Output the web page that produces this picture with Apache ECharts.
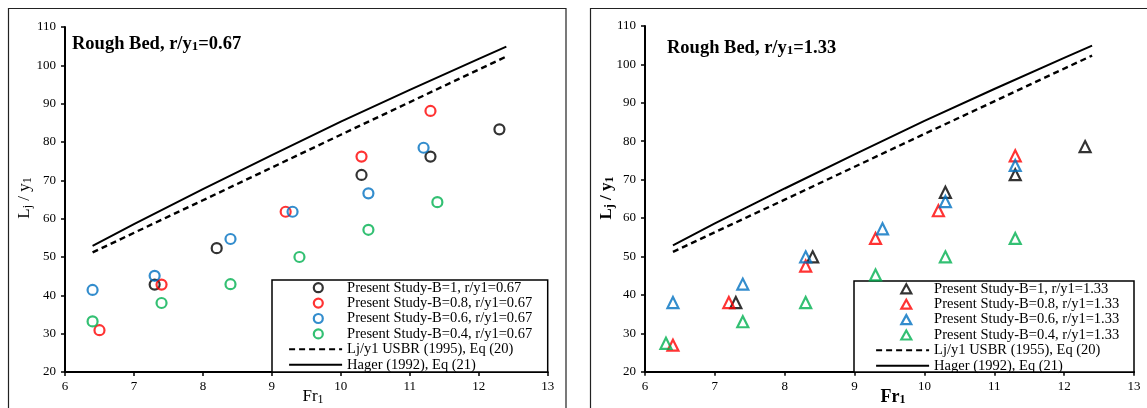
<!DOCTYPE html>
<html>
<head>
<meta charset="utf-8">
<script src="https://cdn.jsdelivr.net/npm/echarts@6/dist/echarts.min.js"></script>
<style>
  html, body { margin: 0; padding: 0; background: #fff; }
  #chart { width: 1147px; height: 408px; }
</style>
</head>
<body>
<div id="chart"></div>
<script>
// ---- Axis ranges ----
const frRange = [6, 13];
const ljRange = [20, 110];

// ---- Rough bed, r/y1 = 0.67 (circles) ----
const frB10_067 = [7.3, 8.2, 10.3, 11.3, 12.3];
const ljB10_067 = [42.8, 52.3, 71.4, 76.2, 83.3];
const frB08_067 = [6.5, 7.4, 9.2, 10.3, 11.3];
const ljB08_067 = [30.9, 42.8, 61.8, 76.2, 88.1];
const frB06_067 = [6.4, 7.3, 8.4, 9.3, 10.4, 11.2];
const ljB06_067 = [41.4, 45.1, 54.7, 61.8, 66.6, 78.5];
const frB04_067 = [6.4, 7.4, 8.4, 9.4, 10.4, 11.4];
const ljB04_067 = [33.2, 38.0, 42.9, 50.0, 57.1, 64.3];

// ---- Rough bed, r/y1 = 1.33 (triangles) ----
const frB10_133 = [7.3, 8.4, 10.3, 11.3, 12.3];
const ljB10_133 = [38.0, 49.9, 66.7, 71.3, 78.6];
const frB08_133 = [6.4, 7.2, 8.3, 9.3, 10.2, 11.3];
const ljB08_133 = [26.9, 38.0, 47.5, 54.7, 61.9, 76.2];
const frB06_133 = [6.4, 7.4, 8.3, 9.4, 10.3, 11.3];
const ljB06_133 = [38.0, 42.8, 49.9, 57.2, 64.3, 73.7];
const frB04_133 = [6.3, 7.4, 8.3, 9.3, 10.3, 11.3];
const ljB04_133 = [27.4, 33.0, 38.0, 45.2, 49.9, 54.7];

// ---- Reference curves ----
const usbrFr = [6.4, 8, 10, 12.4];
const usbrLj = [51.2, 64.8, 81.9, 102.3];
const hagerFr = [6.4, 7, 8, 9, 10, 11, 12, 12.4];
const hagerLj = [52.9, 58.6, 67.7, 76.6, 85.3, 93.6, 101.7, 104.9];

// ---- Labels ----
const namesLeft = [
  'Present Study-B=1, r/y1=0.67',
  'Present Study-B=0.8, r/y1=0.67',
  'Present Study-B=0.6, r/y1=0.67',
  'Present Study-B=0.4, r/y1=0.67',
  'Lj/y1 USBR (1995), Eq (20)',
  'Hager (1992), Eq (21)'
];
const namesRight = [
  'Present Study-B=1, r/y1=1.33',
  'Present Study-B=0.8, r/y1=1.33',
  'Present Study-B=0.6, r/y1=1.33',
  'Present Study-B=0.4, r/y1=1.33',
  'Lj/y1 USBR (1955), Eq (20)',
  'Hager (1992), Eq (21)'
];
const colors = ['#000000', '#ff0000', '#0070c0', '#00b050'];

const FONT = "'Liberation Serif', 'Times New Roman', serif";

// Legend key boxes are 53 x 10; the leading moves pin the path's bounds to that
// box so the marker keeps its own proportions and sits where it should.
const LEGEND_CIRCLE = 'path://M0,0M53,10M33.7,5A4.5,4.5,0,1,1,24.7,5A4.5,4.5,0,1,1,33.7,5Z';
const LEGEND_TRIANGLE = 'path://M0,0M53,10M30.2,0.6L35.2,9.6L25.2,9.6Z';

function pairs(xs, ys) { return xs.map((x, i) => [x, ys[i]]); }

function scatter(name, xs, ys, color, symbol, idx) {
  return {
    type: 'scatter', name, xAxisIndex: idx, yAxisIndex: idx,
    symbol, symbolSize: symbol === 'circle' ? 10 : 11, symbolKeepAspect: true,
    itemStyle: { color: 'rgba(255,255,255,0)', borderColor: color, borderWidth: 2.2 },
    data: pairs(xs, ys), z: 5
  };
}
function curve(name, xs, ys, dashed, idx) {
  return {
    type: 'line', name, xAxisIndex: idx, yAxisIndex: idx,
    symbol: 'none', showSymbol: false, smooth: false,
    itemStyle: { color: '#000' },
    lineStyle: { color: '#000', width: dashed ? 2.4 : 2, type: dashed ? [6, 4] : 'solid' },
    data: pairs(xs, ys), z: 4
  };
}

function xAxis(idx) {
  return {
    type: 'value', gridIndex: idx, min: frRange[0], max: frRange[1], interval: 1,
    axisLine: { onZero: false, lineStyle: { color: '#000', width: 2 } },
    axisTick: { show: true, inside: false, length: 4, lineStyle: { color: '#000', width: 1.5 } },
    axisLabel: { color: '#000', fontFamily: FONT, fontSize: 13, margin: 8 },
    splitLine: { show: false }
  };
}
function yAxis(idx) {
  return {
    type: 'value', gridIndex: idx, min: ljRange[0], max: ljRange[1], interval: 10,
    axisLine: { show: true, onZero: false, lineStyle: { color: '#000', width: 2 } },
    axisTick: { show: true, inside: false, length: 4, lineStyle: { color: '#000', width: 1.5 } },
    axisLabel: { color: '#000', fontFamily: FONT, fontSize: 13, margin: 9 },
    splitLine: { show: false }
  };
}

function legendData(names, icon) {
  return names.map((n, i) => i < 4
    ? { name: n, icon, itemStyle: { color: '#fff', borderColor: colors[i], borderWidth: 2.2 } }
    : { name: n, itemStyle: { color: 'rgba(0,0,0,0)', borderWidth: 0 } });
}
function legend(names, icon, left, top) {
  return {
    orient: 'vertical', left, top, padding: 0, itemGap: 0,
    itemWidth: 53, itemHeight: 10, symbolKeepAspect: true,
    textStyle: { color: '#000', fontFamily: FONT, fontSize: 14.5, lineHeight: 15.4 },
    data: legendData(names, icon), selectedMode: false
  };
}

function richText(size, weight) {
  return {
    m: { fontFamily: FONT, fontSize: size, fontWeight: weight, fill: '#000', lineHeight: size },
    s: { fontFamily: FONT, fontSize: Math.round(size * 0.68), fontWeight: weight, fill: '#000',
         lineHeight: 6, verticalAlign: 'bottom' }
  };
}
function label(text, x, y, size, weight, rotate, align) {
  return {
    type: 'text', x, y, rotation: rotate ? Math.PI / 2 : 0, z: 10,
    style: {
      text, align: align || 'center', verticalAlign: 'middle',
      fontFamily: FONT, fontSize: size, fontWeight: weight, fill: '#000',
      rich: richText(size, weight)
    }
  };
}

const chart = echarts.init(document.getElementById('chart'), null, { renderer: 'canvas' });
chart.setOption({
  backgroundColor: '#fff',
  animation: false,
  grid: [
    { left: 65, right: 1147 - 547.7, top: 27, bottom: 408 - 372, containLabel: false },
    { left: 645, right: 1147 - 1134, top: 26, bottom: 408 - 371.7, containLabel: false }
  ],
  xAxis: [xAxis(0), xAxis(1)],
  yAxis: [yAxis(0), yAxis(1)],
  legend: [
    legend(namesLeft, LEGEND_CIRCLE, 288, 280),
    legend(namesRight, LEGEND_TRIANGLE, 875, 281)
  ],
  graphic: [
    // panel frames
    { type: 'rect', shape: { x: 8.5, y: 8.5, width: 557.5, height: 420 }, z: 0,
      style: { fill: 'none', stroke: '#222', lineWidth: 1.2 } },
    { type: 'rect', shape: { x: 590.5, y: 8.5, width: 570, height: 420 }, z: 0,
      style: { fill: 'none', stroke: '#222', lineWidth: 1.2 } },
    // legend boxes
    { type: 'rect', shape: { x: 272, y: 280, width: 275.7, height: 92 }, z: 1,
      style: { fill: '#fff', stroke: '#000', lineWidth: 1.5 } },
    { type: 'rect', shape: { x: 854, y: 281, width: 280, height: 91 }, z: 1,
      style: { fill: '#fff', stroke: '#000', lineWidth: 1.5 } },
    // panel titles
    label('{m|Rough Bed, r/y}{s|1}{m|=0.67}', 72, 44, 18.5, 'bold', false, 'left'),
    label('{m|Rough Bed, r/y}{s|1}{m|=1.33}', 667, 48, 18.5, 'bold', false, 'left'),
    // axis titles
    label('{m|L}{s|j}{m| / y}{s|1}', 25, 198, 17, 'normal', true),
    label('{m|L}{s|j}{m| / y}{s|1}', 607, 198, 17, 'bold', true),
    label('{m|Fr}{s|1}', 313, 397, 17, 'normal', false),
    label('{m|Fr}{s|1}', 893, 397, 18, 'bold', false)
  ],
  series: [
    scatter(namesLeft[0], frB10_067, ljB10_067, colors[0], 'circle', 0),
    scatter(namesLeft[1], frB08_067, ljB08_067, colors[1], 'circle', 0),
    scatter(namesLeft[2], frB06_067, ljB06_067, colors[2], 'circle', 0),
    scatter(namesLeft[3], frB04_067, ljB04_067, colors[3], 'circle', 0),
    curve(namesLeft[4], usbrFr, usbrLj, true, 0),
    curve(namesLeft[5], hagerFr, hagerLj, false, 0),
    scatter(namesRight[0], frB10_133, ljB10_133, colors[0], 'triangle', 1),
    scatter(namesRight[1], frB08_133, ljB08_133, colors[1], 'triangle', 1),
    scatter(namesRight[2], frB06_133, ljB06_133, colors[2], 'triangle', 1),
    scatter(namesRight[3], frB04_133, ljB04_133, colors[3], 'triangle', 1),
    curve(namesRight[4], usbrFr, usbrLj, true, 1),
    curve(namesRight[5], hagerFr, hagerLj, false, 1)
  ]
});
</script>
</body>
</html>
